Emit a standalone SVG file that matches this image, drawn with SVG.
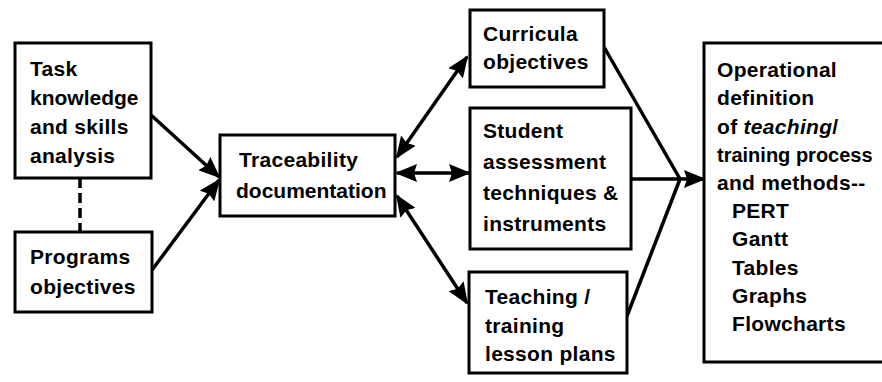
<svg xmlns="http://www.w3.org/2000/svg" width="882" height="382" viewBox="0 0 882 382">
<style>
.box{fill:#fff;stroke:#000;stroke-width:3}
.t{font-family:"Liberation Sans",Arial,sans-serif;font-weight:bold;font-size:21px;letter-spacing:0.3px;fill:#000}
.c{stroke:#000;stroke-width:3.5;fill:none}
</style>
<defs>
<marker id="ah" markerUnits="userSpaceOnUse" markerWidth="22" markerHeight="18" refX="20" refY="9" orient="auto-start-reverse" viewBox="0 0 22 18">
<path d="M0,0 L22,9 L0,18 L3,9 Z" fill="#000"/>
</marker>
</defs>
<rect width="882" height="382" fill="#fff"/>
<g id="connectors">
<line class="c" x1="151" y1="115" x2="219" y2="177" marker-end="url(#ah)"/>
<line class="c" x1="152" y1="270" x2="219" y2="180" marker-end="url(#ah)"/>
<line class="c" x1="80" y1="178" x2="80" y2="232" stroke-dasharray="10,5"/>
<line class="c" x1="397" y1="157" x2="467" y2="57" marker-start="url(#ah)" marker-end="url(#ah)"/>
<line class="c" x1="397" y1="173" x2="469" y2="173" marker-start="url(#ah)" marker-end="url(#ah)"/>
<line class="c" x1="397" y1="196" x2="467" y2="303" marker-start="url(#ah)" marker-end="url(#ah)"/>
<polyline class="c" points="604,47 680,179"/>
<polyline class="c" points="631,179 680,179"/>
<polyline class="c" points="627,316 680,179"/>
<line class="c" x1="679" y1="179" x2="704" y2="179" marker-end="url(#ah)"/>
</g>
<g id="task">
<rect class="box" x="15" y="43" width="136" height="135"/>
<text class="t" x="30" y="76">Task</text>
<text class="t" x="30" y="105" style="letter-spacing:0">knowledge</text>
<text class="t" x="30" y="134">and skills</text>
<text class="t" x="30" y="163">analysis</text>
</g>
<g id="programs">
<rect class="box" x="15" y="232" width="137" height="80"/>
<text class="t" x="30" y="264">Programs</text>
<text class="t" x="30" y="294">objectives</text>
</g>
<g id="traceability">
<rect class="box" x="220" y="135" width="175" height="81"/>
<text class="t" x="239" y="167">Traceability</text>
<text class="t" x="236" y="198" style="letter-spacing:0">documentation</text>
</g>
<g id="curricula">
<rect class="box" x="470" y="10" width="134" height="77"/>
<text class="t" x="483" y="41">Curricula</text>
<text class="t" x="483" y="69">objectives</text>
</g>
<g id="student">
<rect class="box" x="470" y="108" width="161" height="141"/>
<text class="t" x="483" y="138">Student</text>
<text class="t" x="483" y="169">assessment</text>
<text class="t" x="483" y="200">techniques &amp;</text>
<text class="t" x="483" y="231">instruments</text>
</g>
<g id="teaching">
<rect class="box" x="469" y="272" width="158" height="101"/>
<text class="t" x="485" y="304">Teaching /</text>
<text class="t" x="485" y="333">training</text>
<text class="t" x="485" y="361">lesson plans</text>
</g>
<g id="operational">
<rect class="box" x="704" y="43" width="190" height="319"/>
<text class="t" x="717" y="77">Operational</text>
<text class="t" x="717" y="105">definition</text>
<text class="t" x="717" y="134">of <tspan style="font-style:italic">teaching</tspan>/</text>
<text class="t" x="717" y="162" style="font-size:20px;letter-spacing:0">training process</text>
<text class="t" x="717" y="190">and methods--</text>
<text class="t" x="732" y="218">PERT</text>
<text class="t" x="732" y="246">Gantt</text>
<text class="t" x="732" y="275">Tables</text>
<text class="t" x="732" y="303">Graphs</text>
<text class="t" x="732" y="331">Flowcharts</text>
</g>
</svg>
